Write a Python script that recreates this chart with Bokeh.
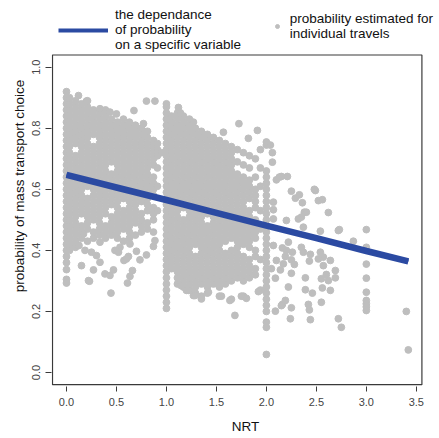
from bokeh.plotting import figure
from bokeh.models import Legend, LegendItem, FixedTicker, PrintfTickFormatter, Range1d, BoxAnnotation
from bokeh.embed import file_html
from bokeh.resources import INLINE

# ---------------- data ----------------
x_ticks = [0.0, 0.5, 1.0, 1.5, 2.0, 2.5, 3.0, 3.5]
y_ticks = [0.0, 0.2, 0.4, 0.6, 0.8, 1.0]

# fitted dependence (probability vs NRT)
line_x = [0.0, 0.5, 1.0, 1.5, 2.0, 2.5, 3.0, 3.42]
line_y = [0.647, 0.606, 0.565, 0.523, 0.481, 0.440, 0.398, 0.364]

# individual travels at integer NRT values (y in percent)
col0_y = [29.3, 30.5, 33.7, 36, 38, 40, 42, 44, 46, 48, 50, 52, 54, 56, 58, 60, 62, 64, 66, 68,
          70, 72, 74, 76, 78, 80, 82, 84, 86, 88, 90, 92]
col1_y = [21, 23, 25, 27, 29, 31, 33, 35, 37, 39, 41, 43, 45, 47, 49, 51, 53, 55, 57, 59, 61, 63,
          65, 67, 69, 71, 73, 75, 77, 79, 81, 83, 85, 87, 88]
col2_y = [5.9, 14.8, 16.5, 20, 22, 24, 26, 28, 30, 32, 34, 36, 38, 40, 42, 44, 46, 48, 50, 52, 54,
          56, 58, 60, 62, 64, 66, 74.5, 75.5]
col3_y = [20.3, 21.5, 22.5, 23.6, 26.3, 30.9, 35.5, 41, 46.8]
col34_x = [3.40, 3.42]
col34_y = [20, 7.4]

# cloud between NRT 0 and 1: strip x and y values (percent)
cloud_a_x = [0.03, 0.09, 0.15, 0.21, 0.27, 0.33, 0.39, 0.45, 0.51, 0.57, 0.63, 0.69, 0.75, 0.81, 0.87, 0.91]
cloud_a_y = [
    [40, 42, 44, 46, 48, 50, 52, 54, 56, 58, 60, 62, 64, 66, 68, 70, 72, 74, 76, 78, 80, 82, 84, 86, 88, 90],
    [41, 43, 45, 47, 49, 51, 53, 55, 57, 59, 61, 63, 65, 67, 69, 71, 75, 77, 79, 81, 83, 85, 87, 89],
    [44, 46, 48, 52, 54, 56, 58, 60, 62, 64, 66, 68, 70, 72, 74, 76, 78, 80, 82, 84, 86, 88],
    [43, 47, 49, 51, 53, 55, 57, 61, 63, 65, 67, 69, 71, 73, 75, 77, 79, 81, 83, 85, 87, 89],
    [44, 46, 50, 52, 54, 56, 58, 60, 62, 64, 66, 68, 70, 72, 74, 78, 80, 82, 84, 86],
    [45, 47, 49, 51, 53, 55, 57, 59, 61, 63, 65, 67, 69, 71, 73, 75, 77, 79, 81, 83, 85],
    [44, 46, 48, 52, 54, 56, 58, 60, 62, 64, 66, 68, 70, 72, 74, 76, 78, 80, 82, 84, 86],
    [45, 47, 49, 51, 55, 57, 59, 61, 63, 65, 69, 71, 73, 75, 77, 79, 81, 83],
    [44, 46, 48, 50, 52, 54, 56, 58, 60, 62, 64, 66, 68, 70, 72, 74, 76, 78, 80, 82],
    [43, 47, 49, 51, 53, 57, 59, 61, 63, 65, 67, 69, 71, 73, 75, 77, 79, 81, 83],
    [44, 46, 48, 50, 52, 54, 56, 58, 60, 62, 64, 66, 68, 70, 72, 74, 76, 78, 80, 82],
    [45, 49, 51, 53, 55, 57, 59, 61, 63, 65, 67, 69, 71, 73, 75, 77, 79, 81],
    [46, 48, 50, 52, 56, 58, 60, 62, 64, 66, 68, 70, 72, 74, 76, 78, 80],
    [47, 49, 53, 55, 57, 59, 61, 63, 65, 67, 69, 71, 73, 75, 77, 79],
    [46, 50, 52, 54, 58, 60, 62, 64, 68, 70, 72, 74, 76],
    [53, 61, 67, 71, 73, 75],
]

# cloud between NRT 1 and 2
cloud_b_x = [1.05, 1.11, 1.17, 1.23, 1.29, 1.35, 1.41, 1.47, 1.53, 1.59, 1.65, 1.71, 1.77, 1.83, 1.89, 1.94]
cloud_b_y = [
    [34, 36, 38, 40, 42, 44, 46, 48, 50, 52, 54, 56, 58, 60, 62, 64, 66, 68, 70, 72, 74, 76, 78, 80, 82, 84],
    [29, 31, 33, 35, 37, 39, 41, 43, 45, 47, 49, 51, 53, 55, 57, 59, 61, 63, 65, 67, 69, 71, 73, 75, 77, 79, 81, 83, 85],
    [28, 30, 32, 34, 36, 38, 40, 42, 44, 46, 48, 50, 54, 56, 58, 60, 62, 64, 66, 68, 70, 72, 74, 76, 78, 80, 82, 84],
    [27, 29, 31, 33, 35, 37, 39, 41, 43, 45, 47, 49, 51, 53, 55, 57, 59, 61, 63, 65, 67, 69, 71, 73, 75, 77, 79, 81, 83],
    [26, 28, 30, 32, 34, 36, 38, 42, 44, 46, 48, 50, 52, 54, 56, 58, 60, 62, 64, 66, 68, 70, 72, 74, 76, 78, 80],
    [25, 29, 31, 33, 35, 37, 39, 41, 43, 45, 47, 49, 51, 53, 55, 57, 59, 61, 63, 65, 67, 69, 71, 73, 75, 77, 79],
    [26, 28, 30, 32, 34, 36, 38, 40, 42, 44, 46, 48, 52, 54, 56, 58, 60, 62, 64, 66, 68, 70, 72, 74, 76, 78],
    [29, 31, 33, 35, 37, 39, 41, 43, 45, 47, 49, 51, 53, 55, 57, 59, 61, 63, 65, 67, 69, 71, 73, 75, 77],
    [25, 28, 30, 32, 34, 36, 38, 40, 42, 44, 46, 48, 50, 52, 54, 56, 58, 60, 62, 64, 66, 68, 70, 72, 74, 76],
    [29, 31, 33, 35, 37, 39, 43, 45, 47, 49, 51, 53, 55, 57, 59, 61, 63, 65, 67, 69, 71, 73, 75],
    [24, 30, 32, 34, 36, 38, 40, 44, 46, 48, 50, 52, 54, 56, 58, 60, 62, 64, 66, 68, 70, 72, 74],
    [31, 33, 35, 37, 39, 41, 43, 45, 47, 49, 51, 53, 55, 57, 59, 61, 63, 65, 69, 73],
    [25, 30, 32, 34, 36, 38, 42, 44, 46, 48, 50, 52, 54, 56, 58, 60, 62, 64, 68, 72],
    [31, 33, 35, 37, 41, 43, 45, 47, 49, 51, 53, 57, 59, 61, 63, 67, 71],
    [32, 34, 38, 40, 44, 46, 48, 50, 54, 56, 58, 60, 64, 70],
    [27, 37, 47, 53, 61, 67, 73],
]

# isolated points
extra_x = [0.12, 0.20, 0.335, 0.435, 0.50, 0.675, 0.80, 0.885, 0.77, 0.95,
           0.125, 0.15, 0.23, 0.25, 0.27, 0.30, 0.335, 0.385, 0.435, 0.47, 0.445, 0.61, 0.635,
           0.66, 0.575, 0.62, 0.70, 0.735, 0.80, 0.87, 0.485, 0.535, 0.335, 0.17, 0.10, 0.185,
           0.52, 0.60, 0.885, 0.635, 0.22,
           1.12, 1.14, 1.27, 1.57, 1.725, 1.91, 1.82, 2.04, 1.685, 1.27, 1.35, 1.55, 1.635, 1.75,
           1.80, 1.92, 1.145, 1.20, 1.42, 1.22, 1.285,
           2.06, 2.06, 2.10, 2.15, 2.21, 2.25, 2.29, 2.33, 2.36, 2.49, 2.52, 2.56, 2.62, 2.38,
           2.35, 2.32, 2.20, 2.07, 2.07, 2.07, 2.37, 2.54, 2.72, 2.87, 2.22, 2.07, 2.16, 2.20,
           2.26, 2.35, 2.37, 2.44, 2.54, 2.57, 2.52, 2.64, 2.10, 2.19, 2.25, 2.28, 2.17, 2.43,
           2.57, 2.69, 2.05, 2.14, 2.25, 2.39, 2.55, 2.60, 2.62, 2.69, 2.09, 2.22, 2.39, 2.46,
           2.56, 2.64, 2.19, 2.16, 2.55, 2.25, 2.42, 2.43, 2.09, 2.24, 2.44, 2.72, 2.75, 2.15,
           2.13, 2.48, 2.40, 2.73]
extra_y = [90.7, 88.9, 86.4, 85.3, 84.7, 85.8, 88.9, 88.9, 81.5, 72,
           41.6, 35, 29.9, 39.4, 33.6, 38.3, 36.1, 32.3, 31.8, 33.6, 26, 29.3, 31.5,
           33.4, 36.7, 38, 39.7, 36.9, 38.5, 41.3, 40, 41, 42.7, 45.4, 47.6, 40,
           39.4, 37.2, 43.2, 42.1, 30.1,
           86.8, 85, 82, 78.7, 81.5, 79.3, 76.7, 74.5, 18.7, 25.2, 24.1, 25, 23.6, 25,
           24.3, 26.5, 28.5, 26.9, 26.3, 26.9, 25.2,
           72, 68.9, 63.1, 64.2, 64.2, 59.4, 57.1, 58.2, 55.6, 59.6, 56.3, 56.6, 52.4, 52.5,
           50.9, 50.3, 49.8, 55.8, 53.3, 50.3, 47.6, 46.3, 46.5, 43, 42.7, 41.6, 40.8, 40,
           39.4, 41, 39.4, 38.7, 39.4, 37.8, 37.2, 36.7, 36.7, 38, 36.9, 35.4, 35.6, 36.5,
           35, 33.4, 34, 33.6, 32.5, 31, 30.7, 32.1, 30.1, 31, 30.9, 28, 27.1, 26,
           27.7, 26.9, 23.6, 22.3, 23, 21.2, 22.3, 20.5, 20.1, 17.6, 17.3, 17.6, 14.8, 21.9,
           64, 60, 52.5, 46.8]

# ---------------- assemble points ----------------
pts_x, pts_y = [], []
for xv, ys in [(0.0, col0_y), (1.0, col1_y), (2.0, col2_y), (3.0, col3_y)]:
    pts_x += [xv] * len(ys)
    pts_y += [v / 100 for v in ys]
pts_x += col34_x
pts_y += [v / 100 for v in col34_y]
for xv, ys in zip(cloud_a_x, cloud_a_y):
    pts_x += [xv] * len(ys)
    pts_y += [v / 100 for v in ys]
for xv, ys in zip(cloud_b_x, cloud_b_y):
    pts_x += [xv] * len(ys)
    pts_y += [v / 100 for v in ys]
pts_x += extra_x
pts_y += [v / 100 for v in extra_y]

GREY = "#bebebe"
BLUE = "#2b4aa2"
AX = "#3a3a3a"
FONT = "Liberation Sans"

# plot box (R style, 4 % padding) and the larger Bokeh frame that also holds the legend
BX0, BX1, BY0, BY1 = -0.14, 3.556, -0.04, 1.04
FX0, FX1, FY0, FY1 = -0.150, 3.732, -0.0459, 1.2185

p = figure(width=439, height=438, x_range=Range1d(FX0, FX1), y_range=Range1d(FY0, FY1),
           output_backend="svg", toolbar_location=None,
           min_border_left=51, min_border_right=0, min_border_top=0, min_border_bottom=52,
           background_fill_color="white", border_fill_color="white")

sc = p.scatter(pts_x, pts_y, size=6.8, color=GREY, line_color=GREY)
ln_key = p.line(line_x, line_y, line_width=4, color=BLUE)   # thinner copy, used as legend key
ln = p.line(line_x, line_y, line_width=6.5, color=BLUE)

p.grid.visible = False
p.outline_line_color = None
p.add_layout(BoxAnnotation(left=BX0, right=BX1, bottom=BY0, top=BY1, fill_alpha=0,
                           line_color=AX, line_alpha=1.0, line_width=1.2))

for ax in (p.xaxis[0], p.yaxis[0]):
    ax.formatter = PrintfTickFormatter(format="%.1f")
    ax.axis_line_color = None
    ax.major_tick_line_color = AX
    ax.major_tick_in = 0
    ax.minor_tick_out = 0
    ax.minor_tick_in = 0
    ax.major_label_text_font = FONT
    ax.major_label_text_font_size = "11px"
    ax.major_label_text_color = "#444444"
    ax.axis_label_text_font = FONT
    ax.axis_label_text_font_size = "13.5px"
    ax.axis_label_text_font_style = "normal"
    ax.axis_label_text_color = "#111111"

p.xaxis.ticker = FixedTicker(ticks=x_ticks)
p.yaxis.ticker = FixedTicker(ticks=y_ticks)
p.yaxis.major_label_orientation = "vertical"
p.xaxis.axis_label = "NRT"
p.yaxis.axis_label = "\u00a0\u00a0\u00a0\u00a0probability of mass transport choice"
p.xaxis.major_tick_out = 5
p.yaxis.major_tick_out = 6
p.xaxis.major_label_standoff = 6
p.xaxis.axis_label_standoff = 10
p.yaxis.major_label_standoff = 5
p.yaxis.axis_label_standoff = 3

common = dict(padding=0, margin=0, spacing=0, border_line_color=None, background_fill_alpha=0,
              label_text_font=FONT, label_text_font_size="13.5px", label_text_color="#111111",
              label_text_line_height=1.15)
leg1 = Legend(items=[LegendItem(label="the dependance\nof probability\non a specific variable",
                                renderers=[ln_key])],
              location=(7, 334), glyph_width=50, glyph_height=20, label_standoff=7, **common)
leg2 = Legend(items=[LegendItem(label="probability estimated for\nindividual travels",
                                renderers=[sc])],
              location=(220.7, 345.5), glyph_width=10, glyph_height=20, label_standoff=8, **common)
p.add_layout(leg1, "center")
p.add_layout(leg2, "center")

open("out.html", "w").write(file_html(p, INLINE))
